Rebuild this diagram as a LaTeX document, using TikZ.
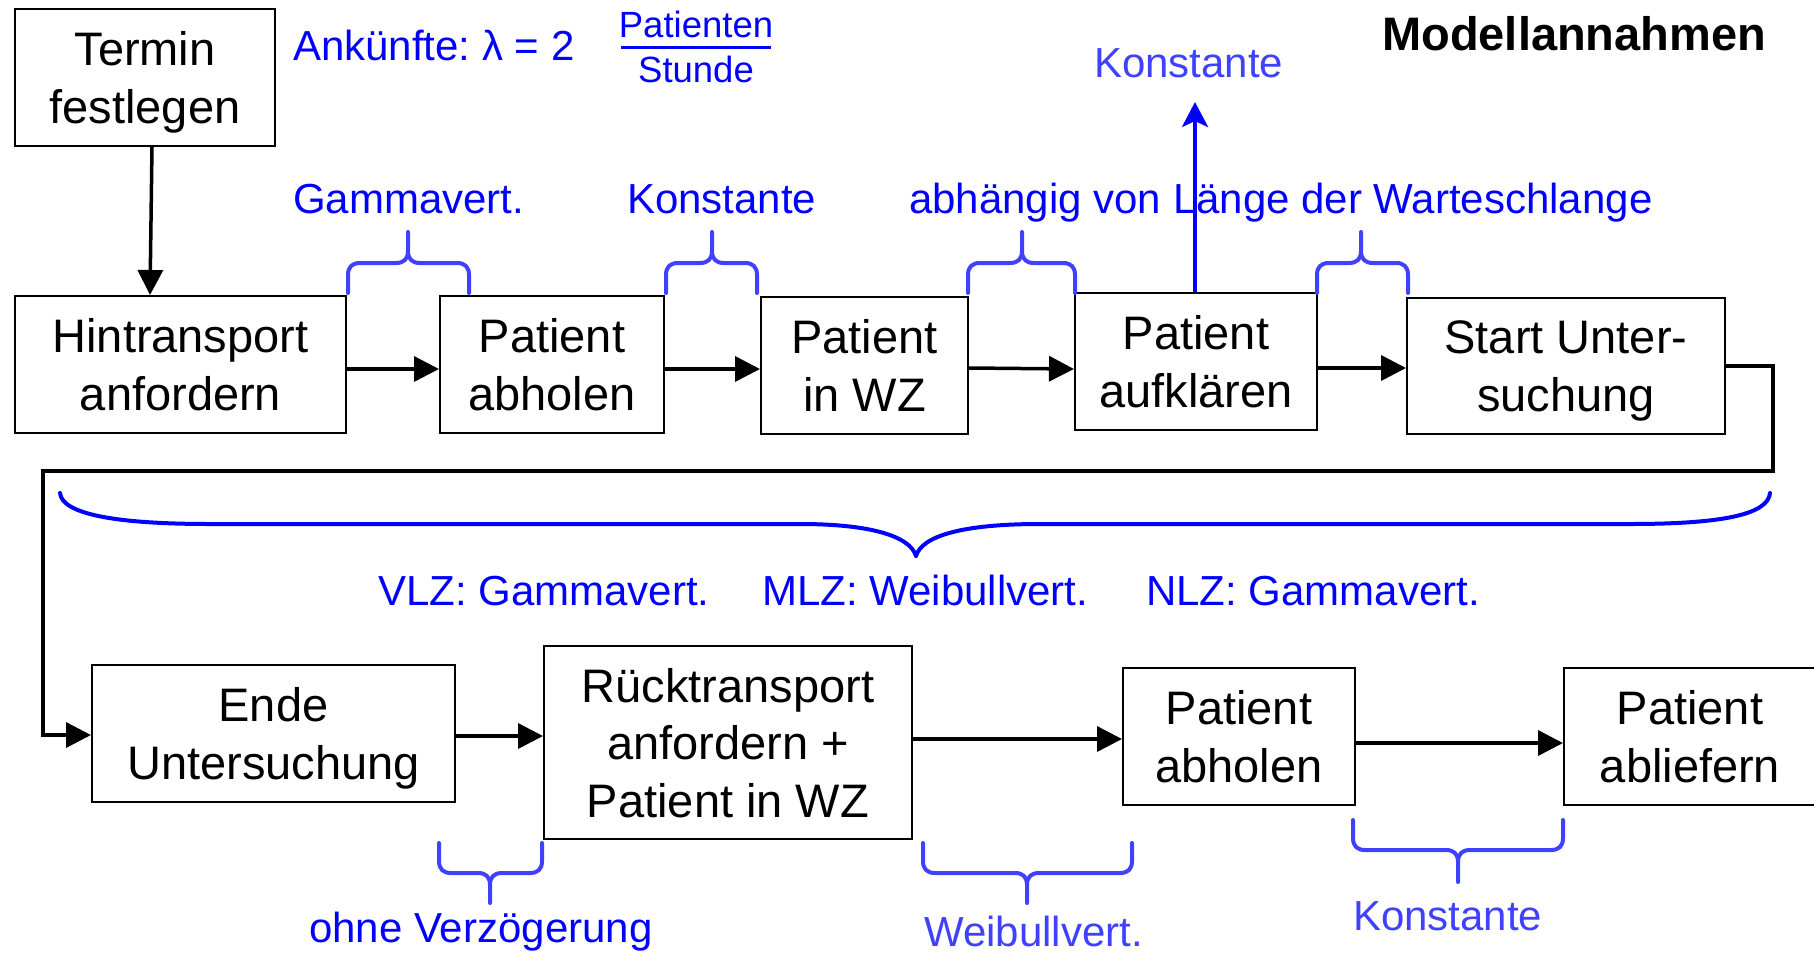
\documentclass[tikz,border=0pt]{standalone}
\usepackage{fontspec}
\setmainfont{Liberation Sans}
\usetikzlibrary{arrows.meta}
\frenchspacing

\definecolor{lblue}{RGB}{0,0,255}
\definecolor{softblue}{RGB}{64,64,255}

% curly brace with square ends: #1 left x, #2 tip x, #3 right x, #4 y of the ends,
% #5 direction (1 = tip below, -1 = tip above), #6 depth of the tip
\newcommand{\sqbrace}[6]{%
  \begin{scope}[shift={(#2,#4)},yscale=#5]
    \draw[sbrace] ({#1-#2},0) -- ({#1-#2},18) .. controls ({#1-#2},26) and ({#1-#2+4},30) .. ({#1-#2+12},30)
      -- (-12,30) .. controls (-4,30) and (0,34) .. (0,42) -- (0,#6);
    \draw[sbrace] ({#3-#2},0) -- ({#3-#2},18) .. controls ({#3-#2},26) and ({#3-#2-4},30) .. ({#3-#2-12},30)
      -- (12,30) .. controls (4,30) and (0,34) .. (0,42);
  \end{scope}}

\begin{document}
\begin{tikzpicture}[x=1pt,y=-1pt,
  box/.style={draw=black,line width=2pt,fill=white,inner sep=0pt,align=center,text depth=0pt,
    font=\fontsize{47}{57.5}\selectfont},
  lbl/.style={inner sep=0pt,anchor=base west,text=lblue,font=\fontsize{42}{48}\selectfont},
  flow/.style={line width=3.5pt,-{Triangle[length=25pt,width=25pt]}},
  sbrace/.style={draw=softblue,line width=4pt,line cap=round,line join=round},
  bbrace/.style={draw=lblue,line width=4pt,line cap=round}]

\useasboundingbox (0,0) rectangle (1814,953);
\begin{scope}
\clip (0,0) rectangle (1814,953);

% process steps
\node[box,minimum width=260pt,minimum height=137pt] (termin) at (145,77.5) {Termin\\festlegen};
\node[box,minimum width=331pt,minimum height=137pt] (hin) at (180.5,364.5) {Hintransport\\anfordern};
\node[box,minimum width=224pt,minimum height=137pt] (abh1) at (552,364.5) {Patient\\abholen};
\node[box,minimum width=207pt,minimum height=137pt] (wz) at (864.5,365.5) {Patient\\in WZ};
\node[box,minimum width=242pt,minimum height=137pt] (aufk) at (1196,361.5) {Patient\\aufklären};
\node[box,minimum width=318pt,minimum height=136pt] (start) at (1566,366) {Start Unter-\\suchung};
\node[box,minimum width=363pt,minimum height=137pt] (ende) at (273.5,733.5) {Ende\\Untersuchung};
\node[box,minimum width=368pt,minimum height=193pt] (rueck) at (728,742.5) {Rücktransport\\anfordern +\\Patient in WZ};
\node[box,minimum width=232pt,minimum height=137pt] (abh2) at (1239,736.5) {Patient\\abholen};
\node[box,minimum width=252pt,minimum height=137pt] (ablief) at (1690,736.5) {Patient\\abliefern};

% flow between the steps
\draw[flow] ([xshift=7pt]termin.south) -- ([xshift=-30.5pt]hin.north);
\draw[flow] ([yshift=-4.5pt]hin.east) -- ([yshift=-4.5pt]abh1.west);
\draw[flow] ([yshift=-4.5pt]abh1.east) -- ([yshift=-3.5pt]wz.west);
\draw[flow] ([yshift=-2.5pt]wz.east) -- ([yshift=-7.5pt]aufk.west);
\draw[flow] ([yshift=-6.5pt]aufk.east) -- ([yshift=-2pt]start.west);
\coordinate (turnR) at (1773,471);
\coordinate (turnL) at (43,471);
\draw[line width=3.5pt,line join=miter,-{Triangle[length=25pt,width=25pt]}]
  (start.east) -| (turnR) -- (turnL) |- ([yshift=-1.5pt]ende.west);
\draw[flow] ([yshift=-2.5pt]ende.east) -- ([yshift=6.5pt]rueck.west);
\draw[flow] ([yshift=3.5pt]rueck.east) -- ([yshift=-2.5pt]abh2.west);
\draw[flow] ([yshift=-6.5pt]abh2.east) -- ([yshift=-6.5pt]ablief.west);

% model assumptions
\node[inner sep=0pt,anchor=base west,font=\fontsize{47}{57}\selectfont\bfseries] (title) at (1382,50) {Modellannahmen};
\node[lbl] (ank) at (293,60) {Ankünfte: λ = 2};
\node[inner sep=0pt,anchor=base,text=lblue,font=\fontsize{36.5}{42}\selectfont] (pat) at (696,37) {Patienten};
\node[inner sep=0pt,anchor=base,text=lblue,font=\fontsize{36.5}{42}\selectfont] (std) at (696,82) {Stunde};
\draw[lblue,line width=3pt] (621,47) -- (771,47);

\node[lbl] (g1) at (293,213) {Gammavert.};
\node[lbl] (k1) at (627,213) {Konstante};
\node[lbl] (abh) at (909,213) {abhängig von Länge der Warteschlange};
\node[lbl,text=softblue] (k2) at (1094,77) {Konstante};
\coordinate (k2tip) at (1195,102);
\draw[lblue,line width=4pt,-{Stealth[length=25pt,width=26pt,inset=6pt]}] ([xshift=-1pt]aufk.north) -- (k2tip);

\sqbrace{348}{408}{469}{293}{-1}{61}
\sqbrace{666}{712}{757}{293}{-1}{61}
\sqbrace{968}{1022}{1075}{293}{-1}{61}
\sqbrace{1317}{1361}{1408}{293}{-1}{61}

% examination times
\draw[bbrace] (60,493) .. controls (62,515) and (120,524) .. (210,524) -- (800,524)
  .. controls (870,524) and (910,536) .. (916,556);
\draw[bbrace] (1770,493) .. controls (1768,515) and (1720,524) .. (1630,524) -- (1040,524)
  .. controls (962,524) and (922,536) .. (916,556);
\node[lbl] (vlz) at (378,605) {VLZ: Gammavert.};
\node[lbl] (mlz) at (762,605) {MLZ: Weibullvert.};
\node[lbl] (nlz) at (1146,605) {NLZ: Gammavert.};

\sqbrace{439}{490}{542}{843}{1}{60}
\sqbrace{923}{1027}{1132}{843}{1}{60}
\sqbrace{1353}{1458}{1563}{820}{1}{62}
\node[lbl] (ohne) at (309,942) {ohne Verzögerung};
\node[lbl,text=softblue] (wb) at (924,946) {Weibullvert.};
\node[lbl,text=softblue] (k3) at (1353,930) {Konstante};
\end{scope}
\end{tikzpicture}
\end{document}
